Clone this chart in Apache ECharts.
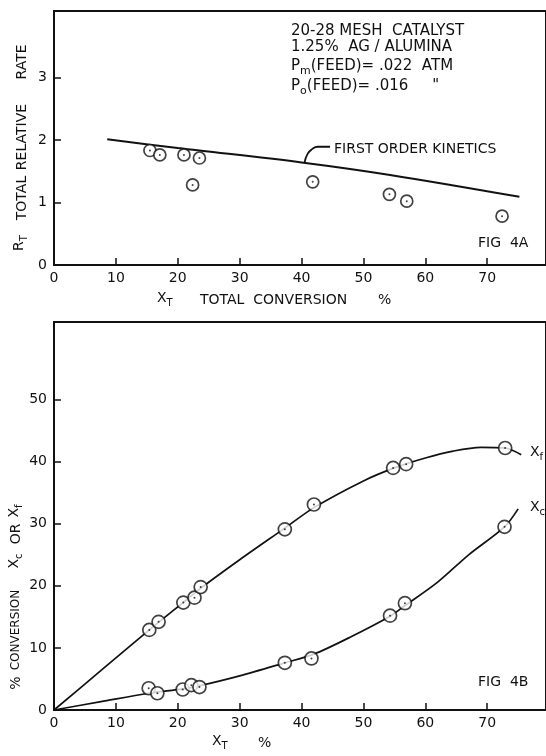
<!DOCTYPE html>
<html>
<head>
<meta charset="utf-8">
<script src="https://cdn.jsdelivr.net/npm/echarts@6/dist/echarts.min.js"></script>
<style>html,body{margin:0;padding:0;background:#fff;}#c{width:546px;height:756px;}</style>
</head>
<body>
<div id="c"></div>
<script>
// ---- Fig 4A data ----
const topX = [15.5, 17.1, 21.0, 22.4, 23.5, 41.8, 54.2, 57.0, 72.4];
const topRate = [1.83, 1.76, 1.76, 1.28, 1.71, 1.33, 1.13, 1.02, 0.78];
const kineticsX = [8.6, 20, 40, 54.3, 75.2];
const kineticsRate = [2.01, 1.87, 1.64, 1.44, 1.09];
const leaderX = [40.5, 41.0, 41.8, 42.6, 44.6];
const leaderY = [1.64, 1.78, 1.86, 1.89, 1.89];
// ---- Fig 4B data ----
const xfX = [15.4, 16.9, 20.9, 22.7, 23.7, 37.3, 42.0, 54.8, 56.9, 72.9];
const xfVals = [12.9, 14.2, 17.3, 18.1, 19.8, 29.1, 33.1, 39.0, 39.6, 42.2];
const xcX = [15.3, 16.7, 20.8, 22.2, 23.5, 37.3, 41.6, 54.3, 56.7, 72.8];
const xcVals = [3.5, 2.7, 3.3, 4.0, 3.7, 7.6, 8.3, 15.2, 17.2, 29.5];
const xfCurveX = [0, 7.7, 15.4, 20, 23.7, 30, 37.3, 42, 50, 55, 60, 64.5, 69, 72.9, 75.5];
const xfCurveY = [0, 6.45, 12.9, 16.6, 19.6, 24.2, 29.3, 32.6, 36.9, 39.0, 40.6, 41.7, 42.3, 42.2, 41.1];
const xcCurveX = [0, 7.6, 15.3, 20.8, 23.5, 30, 37.3, 42, 48, 54.3, 56.7, 62, 67, 72.8, 75];
const xcCurveY = [0, 1.35, 2.7, 3.4, 3.9, 5.5, 7.6, 9.0, 11.8, 15.1, 16.8, 20.6, 25.0, 29.5, 32.4];
// ---- ticks ----
const xTicks = [0, 10, 20, 30, 40, 50, 60, 70];
const topYTicks = [0, 1, 2, 3];
const botYTicks = [0, 10, 20, 30, 40, 50];

const zip = (a, b) => a.map((v, i) => [v, b[i]]);
const FONT = "'DejaVu Sans', sans-serif";
const INK = '#111';

const chart = echarts.init(document.getElementById('c'), null, {renderer: 'canvas'});

function xAxisCfg(gi) {
  return {
    type: 'value', gridIndex: gi, min: 0, max: 79.5,
    axisLine: {show: true, lineStyle: {color: INK, width: 2}},
    axisTick: {show: true, inside: true, length: 7, customValues: xTicks, lineStyle: {color: INK, width: 1.5}},
    axisLabel: {customValues: xTicks, color: INK, fontFamily: FONT, fontSize: 14, margin: 6},
    splitLine: {show: false}
  };
}
function yAxisCfg(gi, max, ticks) {
  return {
    type: 'value', gridIndex: gi, min: 0, max: max,
    axisLine: {show: true, lineStyle: {color: INK, width: 2}},
    axisTick: {show: true, inside: true, length: 7, customValues: ticks, lineStyle: {color: INK, width: 1.5}},
    axisLabel: {customValues: ticks, color: INK, fontFamily: FONT, fontSize: 14, margin: 7},
    splitLine: {show: false}
  };
}

const H = Math.PI / 2;
function txt(x, y, text, size, rot, align) {
  return {
    type: 'text', x: x, y: y, rotation: rot || 0, z: 100,
    style: {
      text: text, fill: INK, font: size + 'px ' + FONT,
      align: align || 'left', textAlign: align || 'left',
      verticalAlign: 'middle', textVerticalAlign: 'middle'
    }
  };
}
const mctx = document.createElement('canvas').getContext('2d');
function tw(s, size) { mctx.font = size + 'px ' + FONT; return mctx.measureText(s).width; }

// horizontal: base + subscript + optional rest, starting at left x, centered at y
function subH(x, y, base, sub, size, rest) {
  const ss = Math.round(size * 0.72);
  const bw = tw(base, size), sw = tw(sub, ss);
  const out = [txt(x, y, base, size), txt(x + bw, y + size * 0.36, sub, ss)];
  if (rest) out.push(txt(x + bw + sw, y, rest, size));
  return out;
}
// rotated (reads bottom to top): compound centered at (x, y)
function subV(x, y, base, sub, size) {
  const ss = Math.round(size * 0.72);
  const bw = tw(base, size), sw = tw(sub, ss);
  const W = bw + sw;
  return [
    txt(x, y + W / 2 - bw / 2, base, size, H, 'center'),
    txt(x + size * 0.36, y + W / 2 - bw - sw / 2, sub, ss, H, 'center')
  ];
}

function circles(xi, data, size) {
  return [{
    type: 'scatter', xAxisIndex: xi, yAxisIndex: xi, data: data, symbol: 'circle', symbolSize: size, z: 10,
    itemStyle: {color: '#fff', borderColor: INK, borderWidth: 1.7}, silent: true
  }, {
    type: 'scatter', xAxisIndex: xi, yAxisIndex: xi, data: data, symbol: 'circle', symbolSize: 2, z: 11,
    itemStyle: {color: INK}, silent: true
  }];
}

const option = {
  animation: false,
  backgroundColor: '#fff',
  grid: [
    {left: 54, right: -3, top: 11, bottom: 491, show: true, borderColor: INK, borderWidth: 2, backgroundColor: 'transparent'},
    {left: 54, right: -3, top: 322, bottom: 46, show: true, borderColor: INK, borderWidth: 2, backgroundColor: 'transparent'}
  ],
  xAxis: [xAxisCfg(0), xAxisCfg(1)],
  yAxis: [yAxisCfg(0, 4.06, topYTicks), yAxisCfg(1, 62.5, botYTicks)],
  series: [
    {type: 'line', xAxisIndex: 0, yAxisIndex: 0, data: zip(kineticsX, kineticsRate), smooth: 0.35,
     symbol: 'none', lineStyle: {color: INK, width: 2}},
    {type: 'line', xAxisIndex: 0, yAxisIndex: 0, data: zip(leaderX, leaderY), smooth: 0.5,
     symbol: 'none', lineStyle: {color: INK, width: 1.8}},
    ...circles(0, zip(topX, topRate), 12),
    {type: 'line', xAxisIndex: 1, yAxisIndex: 1, data: zip(xfCurveX, xfCurveY), smooth: 0.3,
     symbol: 'none', lineStyle: {color: INK, width: 1.7}},
    {type: 'line', xAxisIndex: 1, yAxisIndex: 1, data: zip(xcCurveX, xcCurveY), smooth: 0.3,
     symbol: 'none', lineStyle: {color: INK, width: 1.7}},
    ...circles(1, zip(xfX, xfVals), 13),
    ...circles(1, zip(xcX, xcVals), 13)
  ],
  graphic: [
    // annotation block
    txt(291, 31, '20-28 MESH  CATALYST', 15),
    txt(291, 47, '1.25%  AG / ALUMINA', 15),
    ...subH(291, 66, 'P', 'm', 15, '(FEED)= .022  ATM'),
    ...subH(291, 86, 'P', 'o', 15, '(FEED)= .016     "'),
    txt(334, 149, 'FIRST ORDER KINETICS', 14),
    txt(478, 243, 'FIG  4A', 14),
    txt(478, 682, 'FIG  4B', 14),
    // curve labels
    ...subH(530, 452, 'X', 'f', 14),
    ...subH(530, 507, 'X', 'c', 14),
    // top axis names
    ...subH(157, 298, 'X', 'T', 14),
    txt(200, 300, 'TOTAL  CONVERSION', 14),
    txt(378, 300, '%', 14),
    ...subV(19, 243, 'R', 'T', 14),
    txt(22, 198, 'TOTAL', 14, H, 'center'),
    txt(22, 137, 'RELATIVE', 14, H, 'center'),
    txt(22, 62, 'RATE', 14, H, 'center'),
    // bottom axis names
    ...subH(212, 741, 'X', 'T', 14),
    txt(258, 743, '%', 14),
    txt(16, 683, '%', 14, H, 'center'),
    txt(16, 630, 'CONVERSION', 12, H, 'center'),
    ...subV(14, 561, 'X', 'c', 14),
    txt(16, 534, 'OR', 14, H, 'center'),
    ...subV(14, 511, 'X', 'f', 14)
  ]
};
chart.setOption(option);
</script>
</body>
</html>
